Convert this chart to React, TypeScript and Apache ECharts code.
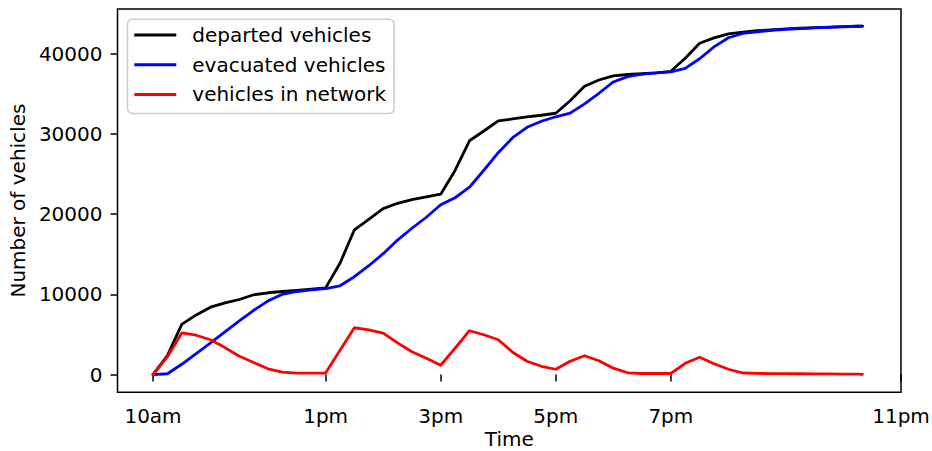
import React, { useEffect, useRef } from "react";
import * as echarts from "echarts";

// Time of day in hours (10 = 10am), sampled every 15 minutes
const timeHours = [
  10, 10.25, 10.5, 10.75, 11, 11.25, 11.5, 11.75, 12, 12.25, 12.5, 12.75,
  13, 13.25, 13.5, 13.75, 14, 14.25, 14.5, 14.75, 15, 15.25, 15.5, 15.75,
  16, 16.25, 16.5, 16.75, 17, 17.25, 17.5, 17.75, 18, 18.25, 18.5, 18.75,
  19, 19.25, 19.5, 19.75, 20, 20.25, 20.5, 20.75, 21, 21.25, 21.5, 21.75,
  22, 22.25, 22.33,
];

// Cumulative vehicles that have departed
const departedVehicles = [
  0, 2350, 6250, 7430, 8390, 8920, 9350, 9940, 10190, 10350, 10490, 10630,
  10800, 13870, 18040, 19350, 20680, 21340, 21800, 22150, 22470, 25430, 29130, 30350,
  31610, 31850, 32100, 32310, 32560, 34120, 35920, 36700, 37220, 37390, 37480, 37600,
  37790, 39410, 41280, 41950, 42460, 42670, 42840, 42960, 43070, 43150, 43220, 43290,
  43350, 43400, 43420,
];

// Cumulative vehicles that have left the area
const evacuatedVehicles = [
  0, 100, 1280, 2620, 3950, 5320, 6680, 8010, 9180, 10000, 10350, 10540,
  10720, 11060, 12190, 13560, 15060, 16760, 18230, 19600, 21160, 22030, 23340, 25460,
  27640, 29510, 30810, 31560, 32120, 32580, 33720, 35050, 36460, 37130, 37440, 37580,
  37720, 38160, 39350, 40830, 41970, 42500, 42710, 42900, 43020, 43110, 43190, 43270,
  43340, 43400, 43420,
];

// Vehicles currently on the road network
const vehiclesInNetwork = [
  0, 2190, 5180, 4900, 4340, 3360, 2280, 1500, 720, 290, 180, 180,
  180, 3030, 5830, 5580, 5170, 3940, 2840, 2030, 1160, 3280, 5460, 4960,
  4340, 2780, 1660, 1030, 660, 1660, 2340, 1720, 790, 220, 130, 130,
  130, 1400, 2160, 1350, 660, 190, 140, 120, 110, 100, 90, 80,
  60, 40, 30,
];

const seriesNames = ["departed vehicles", "evacuated vehicles", "vehicles in network"];
const seriesColors = ["#000000", "#0000ff", "#ff0000"];

const timeTicks = [10, 13, 15, 17, 19, 23];
const timeTickLabels = ["10am", "1pm", "3pm", "5pm", "7pm", "11pm"];
const countTicks = [0, 10000, 20000, 30000, 40000];

const FONT = "'DejaVu Sans', 'Noto Sans', sans-serif";

export default function App() {
  const ref = useRef<HTMLDivElement>(null);

  useEffect(() => {
    if (!ref.current) return;
    const chart = echarts.init(ref.current, undefined, { renderer: "svg" });
    const pairs = (values: number[]) => timeHours.map((t, i) => [t, values[i]]);
    const seriesValues = [departedVehicles, evacuatedVehicles, vehiclesInNetwork];

    chart.setOption({
      animation: false,
      backgroundColor: "#ffffff",
      grid: {
        left: 117.5,
        right: 31,
        top: 9,
        bottom: 58.8,
        containLabel: false,
        outerBoundsMode: "none",
        show: true,
        borderColor: "#000000",
        borderWidth: 1.5,
        backgroundColor: "transparent",
      },
      legend: {
        orient: "vertical",
        left: 127.5,
        top: 19.3,
        data: seriesNames,
        icon: "rect",
        itemWidth: 42,
        itemHeight: 3,
        itemGap: 9.7,
        padding: [5.7, 8, 9, 6.8],
        backgroundColor: "rgba(255,255,255,0.8)",
        borderColor: "#cccccc",
        borderWidth: 1.5,
        borderRadius: 5,
        selectedMode: false,
        textStyle: {
          fontFamily: FONT,
          fontSize: 20,
          lineHeight: 20,
          color: "#000000",
          padding: [0, 0, 0, 11],
        },
      },
      xAxis: {
        type: "value",
        min: 9.383,
        max: 23,
        name: "Time",
        nameLocation: "middle",
        nameGap: 38.3,
        nameMoveOverlap: false,
        nameTextStyle: { fontFamily: FONT, fontSize: 20, color: "#000000", lineHeight: 16 },
        axisLine: { show: false },
        axisTick: {
          show: true,
          customValues: timeTicks,
          length: 7,
          lineStyle: { color: "#000000", width: 1.5 },
        },
        axisLabel: {
          customValues: timeTicks,
          formatter: (v: number) => {
            const idx = timeTicks.findIndex((t) => Math.abs(t - v) < 1e-6);
            return idx >= 0 ? timeTickLabels[idx] : "";
          },
          margin: 14,
          fontFamily: FONT,
          fontSize: 20,
          lineHeight: 20,
          color: "#000000",
        },
        splitLine: { show: false },
      },
      yAxis: {
        type: "value",
        min: -2200,
        max: 45550,
        name: "Number of vehicles",
        nameLocation: "middle",
        nameGap: 82,
        nameTextStyle: { fontFamily: FONT, fontSize: 20, color: "#000000", lineHeight: 20 },
        axisLine: { show: false },
        axisTick: {
          show: true,
          customValues: countTicks,
          length: 7,
          lineStyle: { color: "#000000", width: 1.5 },
        },
        axisLabel: {
          customValues: countTicks,
          formatter: (v: number) => String(Math.round(v)),
          margin: 15,
          fontFamily: FONT,
          fontSize: 20,
          color: "#000000",
        },
        splitLine: { show: false },
      },
      series: seriesNames.map((name, i) => ({
        name,
        type: "line",
        data: pairs(seriesValues[i]),
        color: seriesColors[i],
        showSymbol: false,
        symbol: "none",
        lineStyle: { color: seriesColors[i], width: 2.8, join: "round", cap: "round" },
        z: 2 + i,
      })),
    });

    return () => {
      chart.dispose();
    };
  }, []);

  return (
    <div
      ref={ref}
      style={{ position: "fixed", left: 0, top: 0, width: 932, height: 451, background: "#ffffff" }}
    />
  );
}
